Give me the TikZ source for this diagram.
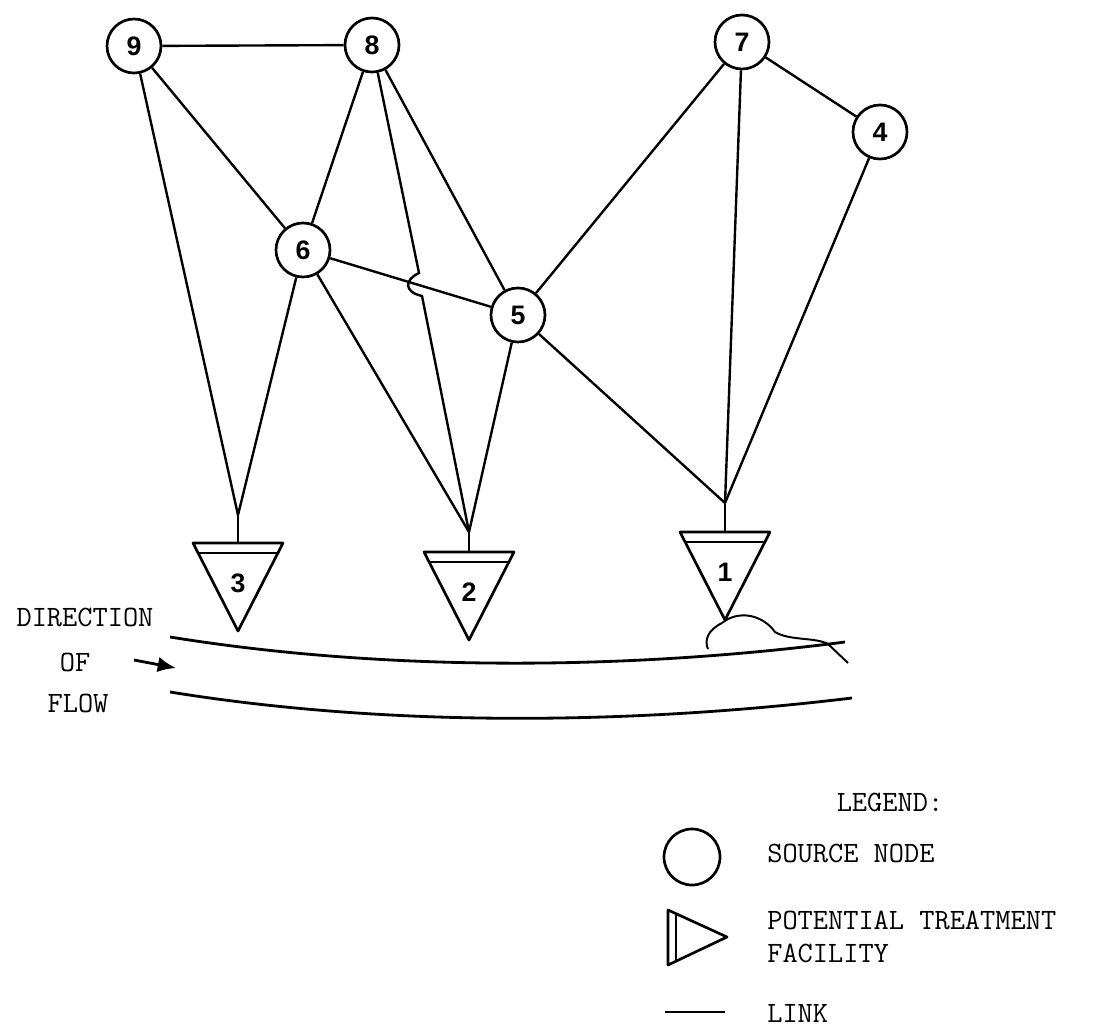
\documentclass[tikz,border=0pt]{standalone}
\usepackage{fontspec}
\setsansfont{Liberation Sans}
\usepackage{tikz}
\usetikzlibrary{arrows.meta,positioning,shapes}

\begin{document}
\begin{tikzpicture}[x=0.025cm,y=-0.025cm,>=Latex,
  src/.style={draw,circle,line width=1.9pt,minimum size=1.35cm,inner sep=0pt,font=\sffamily\bfseries\fontsize{19}{19}\selectfont},
  num/.style={inner sep=0pt,font=\sffamily\bfseries\fontsize{19}{19}\selectfont},
  link/.style={line width=1.7pt},
  lbl/.style={inner sep=0pt,font=\ttfamily\fontsize{21}{21}\selectfont}]
\useasboundingbox (0,0) rectangle (1097,1036);
% source nodes
\node[src] (9) at (134,46) {9};
\node[src] (8) at (372,45) {8};
\node[src] (7) at (742,42) {7};
\node[src] (4) at (880,132) {4};
\node[src] (6) at (303,250) {6};
\node[src] (5) at (518,315) {5};
% treatment facilities
\foreach \n/\x/\y/\s in {3/238/543/28, 2/469/552/20, 1/725/532/29}{
  \draw[line width=1.9pt,line join=round] ({\x-45},\y) -- ({\x+45},\y) -- (\x,{\y+88}) -- cycle;
  \draw[line width=1.6pt] ({\x-40},{\y+10}) -- ({\x+40},{\y+10});
  \node[num] (f\n) at (\x,{\y+40}) {\n};
  \coordinate (s\n) at (\x,{\y-\s});
  \draw[link] (s\n) -- (\x,\y);
}
% links
\coordinate (j1) at (419,273);
\coordinate (j2) at (422,296);
\draw[link] (9) -- (8);
\draw[link] (9) -- (6);
\draw[link] (9) -- (s3);
\draw[link] (8) -- (6);
\draw[link] (8) -- (j1) .. controls (404,280) and (404,292) .. (j2) -- (s2);
\draw[link] (8) -- (5);
\draw[link] (6) -- (5);
\draw[link] (6) -- (s3);
\draw[link] (6) -- (s2);
\draw[link] (5) -- (s2);
\draw[link] (5) -- (s1);
\draw[link] (7) -- (5);
\draw[link] (7) -- (s1);
\draw[link] (7) -- (4);
\draw[link] (4) -- (s1);
% river
\draw[line width=2pt] (170,637) .. controls (380,671) and (620,671) .. (845,642);
\draw[line width=2pt] (170,692) .. controls (380,726) and (620,726) .. (852,698);
\draw[line width=1.4pt] (722,623) .. controls (738,610) and (762,614) .. (775,632)
  .. controls (790,641) and (815,637) .. (828,644) -- (848,663);
\draw[line width=1.4pt] (722,623) .. controls (708,630) and (704,640) .. (708,649);
\node[lbl] (dir) at (85,617) {DIRECTION};
\node[lbl] (of) at (75,662) {OF};
\node[lbl] (flow) at (78,703) {FLOW};
\coordinate (fa) at (134,660);
\coordinate (fb) at (176,668);
\draw[line width=2pt,-{Latex[length=13pt,width=11pt]}] (fa) -- (fb);
% legend
\node[lbl] (leg) at (890,802) {LEGEND:};
\node[draw,circle,line width=1.9pt,minimum size=1.4cm,inner sep=0pt] (lc) at (692,857) {};
\node[lbl,anchor=west] (lsrc) at (767,853) {SOURCE NODE};
\draw[line width=1.9pt,line join=round] (668,910) -- (727,937) -- (668,965) -- cycle;
\draw[line width=1.5pt] (676,914) -- (676,961);
\node[lbl,anchor=west] (ltr) at (767,920) {POTENTIAL TREATMENT};
\node[lbl,anchor=west] (lfac) at (767,953) {FACILITY};
\coordinate (la) at (665,1012);
\coordinate (lb) at (725,1012);
\draw[line width=2pt] (la) -- (lb);
\node[lbl,anchor=west] (llink) at (767,1013) {LINK};
\end{tikzpicture}
\end{document}
